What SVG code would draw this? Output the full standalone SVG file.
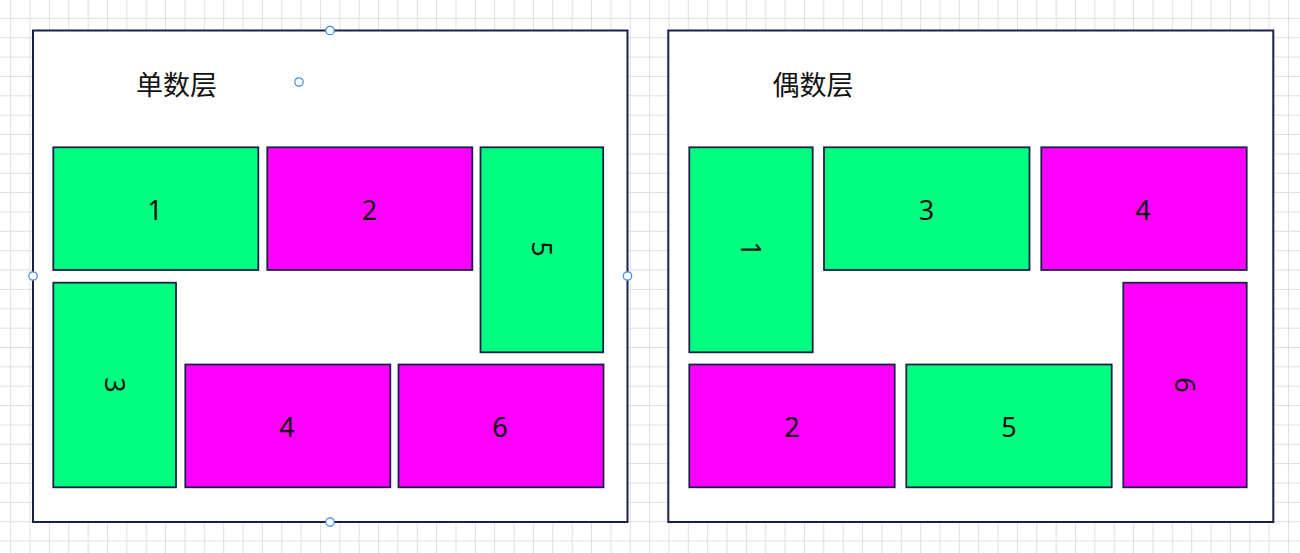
<svg xmlns="http://www.w3.org/2000/svg" width="1300" height="553" viewBox="0 0 1300 553">
<defs>
<pattern id="grid" patternUnits="userSpaceOnUse" x="10.2" y="-1.5" width="19.36" height="19.36">
<path d="M0.5 0 V19.36 M0 0.5 H19.36" stroke="#dedede" stroke-width="1" fill="none"/>
</pattern>
<style>
.panel{fill:#ffffff;stroke:#1c2048;stroke-width:2}
.g{fill:#00ff80;stroke:#1c2048;stroke-width:1.8}
.m{fill:#ff00ff;stroke:#1c2048;stroke-width:1.8}
.lbl{font-family:"Noto Sans","Liberation Sans","Noto Sans CJK SC",sans-serif;font-size:27px;fill:#111111;text-anchor:middle}
.title{font-family:"Noto Sans CJK SC","Noto Sans",sans-serif;font-size:27px;fill:#111111;text-anchor:middle;dominant-baseline:central}
.handle{fill:#ffffff;stroke:#3b8eea;stroke-width:1.2}
</style>
</defs>
<rect x="0" y="0" width="1300" height="553" fill="#ffffff"/>
<rect x="0" y="0" width="1300" height="553" fill="url(#grid)"/>

<g id="panel-odd">
<rect class="panel" x="33" y="30.5" width="594.5" height="491.5"/>
<text class="title" x="176.5" y="83">单数层</text>
</g>
<g id="panel-even">
<rect class="panel" x="668.3" y="30.5" width="605" height="491.5"/>
<text class="title" x="813" y="83">偶数层</text>
</g>

<g id="odd-1"><rect class="g" x="53.3" y="147.3" width="205" height="122.7"/><text class="lbl" x="155" y="220">1</text></g>
<g id="odd-2"><rect class="m" x="267.3" y="147.3" width="205" height="122.7"/><text class="lbl" x="369.5" y="220">2</text></g>
<g id="odd-5"><rect class="g" x="480.5" y="147.3" width="122.7" height="205"/><text class="lbl" transform="translate(542,249) rotate(90)" x="0" y="10">5</text></g>
<g id="odd-3"><rect class="g" x="53.3" y="282.7" width="122.7" height="204.6"/><text class="lbl" transform="translate(114.5,385) rotate(90)" x="0" y="10">3</text></g>
<g id="odd-4"><rect class="m" x="185.3" y="364.5" width="205" height="122.8"/><text class="lbl" x="287" y="437">4</text></g>
<g id="odd-6"><rect class="m" x="398.5" y="364.5" width="205" height="122.8"/><text class="lbl" x="500" y="437">6</text></g>

<g id="even-1"><rect class="g" x="689.3" y="147.3" width="123.4" height="205"/><text class="lbl" transform="translate(751,249) rotate(90)" x="0" y="10">1</text></g>
<g id="even-3"><rect class="g" x="824" y="147.3" width="205.5" height="122.7"/><text class="lbl" x="926.5" y="220">3</text></g>
<g id="even-4"><rect class="m" x="1041.3" y="147.3" width="205.4" height="122.7"/><text class="lbl" x="1143" y="220">4</text></g>
<g id="even-6"><rect class="m" x="1123.3" y="282.7" width="123.4" height="204.6"/><text class="lbl" transform="translate(1185,385) rotate(90)" x="0" y="10">6</text></g>
<g id="even-2"><rect class="m" x="689.3" y="364.5" width="205.4" height="122.8"/><text class="lbl" x="792" y="437">2</text></g>
<g id="even-5"><rect class="g" x="906.3" y="364.5" width="205.4" height="122.8"/><text class="lbl" x="1009" y="437">5</text></g>

<g id="connectors"></g>

<g id="handles">
<circle class="handle" cx="330" cy="30.5" r="4.2"/>
<circle class="handle" cx="299" cy="82" r="4.2"/>
<circle class="handle" cx="33" cy="276" r="4.2"/>
<circle class="handle" cx="627.5" cy="276" r="4.2"/>
<circle class="handle" cx="330" cy="522" r="4.2"/>
</g>
</svg>
